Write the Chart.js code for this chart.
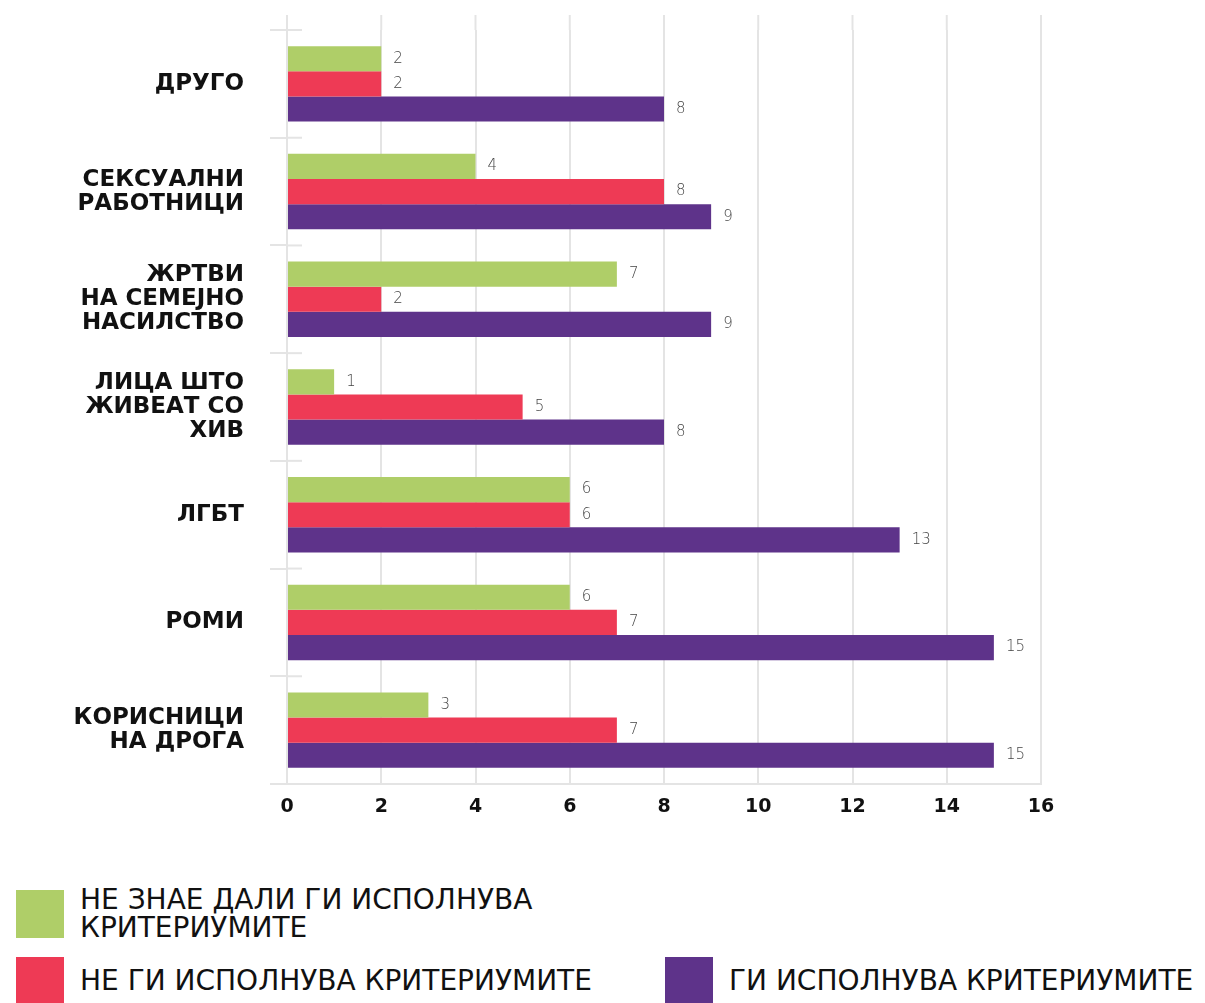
<!DOCTYPE html>
<html>
<head>
<meta charset="utf-8">
<script src="https://cdn.jsdelivr.net/npm/chart.js@4.4.1/dist/chart.umd.min.js"></script>
<style>
    body { margin: 0; background: #fff; }
    .wrap { position: relative; width: 1205px; height: 1003px; overflow: hidden; font-family: "DejaVu Sans", sans-serif; }
    .chartbox { position: absolute; left: 0; top: 0; width: 1205px; height: 830px; }
    .legitem { position: absolute; display: flex; align-items: center; }
    .legitem .sw { width: 48px; height: 48px; flex: none; }
    .legitem .txt { margin-left: 16px; font-size: 28px; line-height: 28px; color: #111; }
</style>
</head>
<body>
<div class="wrap">
    <div class="chartbox"><canvas id="myChart"></canvas></div>
    <div id="legend"></div>
</div>
<script>
// kategorii (odozgora nadolu)
const categories = ['ДРУГО', ['СЕКСУАЛНИ', 'РАБОТНИЦИ'], ['ЖРТВИ', 'НА СЕМЕЈНО', 'НАСИЛСТВО'], ['ЛИЦА ШТО', 'ЖИВЕАТ СО', 'ХИВ'], 'ЛГБТ', 'РОМИ', ['КОРИСНИЦИ', 'НА ДРОГА']];
const seriesNames = ['НЕ ЗНАЕ ДАЛИ ГИ ИСПОЛНУВА КРИТЕРИУМИТЕ', 'НЕ ГИ ИСПОЛНУВА КРИТЕРИУМИТЕ', 'ГИ ИСПОЛНУВА КРИТЕРИУМИТЕ'];
const dontKnow = [2, 4, 7, 1, 6, 6, 3];
const notMeeting = [2, 8, 2, 5, 6, 7, 7];
const meeting = [8, 9, 9, 8, 13, 15, 15];
const xTicks = [0, 2, 4, 6, 8, 10, 12, 14, 16];
const colors = ['#AFCE68', '#EE3A55', '#5E338A'];

const gridColor = '#e4e4e4';

// brojki pokraj stolbovite
const valueLabels = {
    id: 'valueLabels',
    afterDatasetsDraw(chart) {
        const ctx = chart.ctx;
        ctx.save();
        ctx.font = '300 15px "DejaVu Sans"';
        ctx.fillStyle = '#444';
        ctx.textAlign = 'left';
        ctx.textBaseline = 'middle';
        chart.data.datasets.forEach(function (ds, i) {
            chart.getDatasetMeta(i).data.forEach(function (bar, j) {
                ctx.fillText(ds.data[j], bar.x + 12, bar.y);
            });
        });
        ctx.restore();
    }
};

// crtickite megju kategoriite + mrezata malku nad grafikot
const sepTicks = {
    id: 'sepTicks',
    afterDraw(chart) {
        const y = chart.scales.y;
        const x = chart.scales.x;
        const top = chart.chartArea.top;
        const ctx = chart.ctx;
        ctx.save();
        ctx.strokeStyle = gridColor;
        ctx.lineWidth = 2;
        for (let i = 0; i < categories.length; i++) {
            const py = y.getPixelForValue(i - 0.5);
            ctx.beginPath();
            ctx.moveTo(y.right, py);
            ctx.lineTo(y.right + 15, py);
            ctx.stroke();
        }
        xTicks.forEach(function (v) {
            const px = x.getPixelForValue(v);
            ctx.beginPath();
            ctx.moveTo(px, top - 15);
            ctx.lineTo(px, top);
            ctx.stroke();
        });
        ctx.restore();
    }
};

const ctx = document.getElementById('myChart').getContext('2d');
const myChart = new Chart(ctx, {
    type: 'bar',
    data: {
        labels: categories,
        datasets: [
            { label: seriesNames[0], data: dontKnow, backgroundColor: colors[0] },
            { label: seriesNames[1], data: notMeeting, backgroundColor: colors[1] },
            { label: seriesNames[2], data: meeting, backgroundColor: colors[2] }
        ]
    },
    options: {
        indexAxis: 'y',
        responsive: true,
        maintainAspectRatio: false,
        animation: false,
        categoryPercentage: 0.7,
        barPercentage: 1.0,
        layout: { padding: { top: 30, right: 164, left: 0, bottom: 0 } },
        plugins: {
            legend: { display: false },
            tooltip: { enabled: false }
        },
        scales: {
            x: {
                min: 0,
                max: 16,
                afterBuildTicks: function (scale) {
                    scale.ticks = xTicks.map(v => ({ value: v }));
                },
                afterFit: function (scale) { scale.height = 46; },
                grid: { color: gridColor, lineWidth: 2, drawTicks: false },
                border: { color: gridColor, width: 2 },
                ticks: {
                    padding: 12,
                    color: '#111',
                    font: { family: '"DejaVu Sans"', size: 19, weight: 'bold' }
                }
            },
            y: {
                afterFit: function (scale) {
                    scale.width = 287;
                    scale.paddingTop = 0;
                    scale.paddingBottom = 0;
                },
                grid: { drawOnChartArea: false, drawTicks: true, tickLength: 17, color: gridColor, lineWidth: 2, offset: true },
                border: { color: gridColor, width: 2 },
                ticks: {
                    padding: 26,
                    color: '#111',
                    font: { family: '"DejaVu Sans"', size: 23, weight: 'bold', lineHeight: 1.04 }
                }
            }
        }
    },
    plugins: [valueLabels, sepTicks]
});

// legenda
const legendPos = [
    { left: 16, top: 886 },
    { left: 16, top: 957 },
    { left: 665, top: 957 }
];
const legendTexts = ['НЕ ЗНАЕ ДАЛИ ГИ ИСПОЛНУВА<br>КРИТЕРИУМИТЕ', seriesNames[1], seriesNames[2]];
const legendEl = document.getElementById('legend');
legendTexts.forEach(function (t, i) {
    const item = document.createElement('div');
    item.className = 'legitem';
    item.style.left = legendPos[i].left + 'px';
    item.style.top = legendPos[i].top + 'px';
    item.innerHTML = `<div class="sw" style="background:${colors[i]}"></div><div class="txt">${t}</div>`;
    legendEl.appendChild(item);
});
</script>
</body>
</html>
